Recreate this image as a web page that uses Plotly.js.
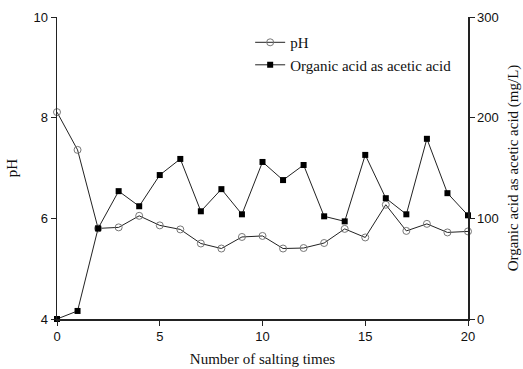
<!DOCTYPE html>
<html>
<head>
<meta charset="utf-8">
<script src="https://cdn.plot.ly/plotly-3.0.1.min.js"></script>
<style>html,body{margin:0;padding:0;background:#fff;}#chart{width:523px;height:369px;}</style>
</head>
<body>
<div id="chart"></div>
<script>
const saltingTimes = [0,1,2,3,4,5,6,7,8,9,10,11,12,13,14,15,16,17,18,19,20];
const phValues = [8.11,7.36,5.80,5.82,6.05,5.86,5.78,5.50,5.40,5.63,5.65,5.40,5.41,5.51,5.79,5.62,6.27,5.75,5.89,5.72,5.74];
const acidValues = [0,8,90,127,112,143,159,107,129,104,156,138,153,102,97,163,120,104,179,125,103];
const xTicks = [0,5,10,15,20];
const phTicks = [4,6,8,10];
const acidTicks = [0,100,200,300];

const serif = 'Liberation Serif, Times New Roman, serif';
const sans = 'Liberation Sans, Arial, sans-serif';

const traces = [
  {
    x: saltingTimes, y: phValues, name: 'pH', type: 'scatter', mode: 'lines+markers',
    line: {color: '#222', width: 1},
    marker: {symbol: 'circle-open', size: 7, color: '#777', line: {width: 1, color: '#777'}},
    cliponaxis: false, yaxis: 'y'
  },
  {
    x: saltingTimes, y: acidValues, name: 'Organic acid as acetic acid', type: 'scatter', mode: 'lines+markers',
    line: {color: '#222', width: 1},
    marker: {symbol: 'square', size: 6, color: '#000'},
    cliponaxis: false, yaxis: 'y2'
  }
];

const layout = {
  width: 523, height: 369,
  margin: {l: 57, r: 55, t: 17, b: 50},
  paper_bgcolor: '#fff', plot_bgcolor: '#fff',
  showlegend: true,
  legend: {x: 0.47, y: 0.97, xanchor: 'left', yanchor: 'top', bgcolor: 'rgba(0,0,0,0)',
           font: {family: serif, size: 15, color: '#111'}, itemwidth: 30, tracegroupgap: 0},
  xaxis: {
    range: [0, 20], tickvals: xTicks, ticktext: xTicks.map(String),
    showgrid: false, zeroline: false, showline: true, linecolor: '#222', linewidth: 1.5,
    mirror: false, ticks: 'outside', ticklen: 5, tickcolor: '#222',
    tickfont: {family: sans, size: 13, color: '#111'},
    title: {text: 'Number of salting times', font: {family: serif, size: 15, color: '#111'}, standoff: 10}
  },
  xaxis2: {overlaying: 'x', side: 'top', range: [0, 20], showticklabels: false, ticks: '',
           showline: true, linecolor: '#222', linewidth: 1.5, showgrid: false, zeroline: false},
  yaxis: {
    range: [4, 10], tickvals: phTicks, ticktext: phTicks.map(String),
    showgrid: false, zeroline: false, showline: true, linecolor: '#222', linewidth: 1.5,
    ticks: 'outside', ticklen: 5, tickcolor: '#222',
    tickfont: {family: sans, size: 13, color: '#111'},
    title: {text: 'pH', font: {family: serif, size: 15, color: '#111'}, standoff: 12}
  },
  yaxis2: {
    overlaying: 'y', side: 'right', range: [0, 300], tickvals: acidTicks, ticktext: acidTicks.map(String),
    showgrid: false, zeroline: false, showline: true, linecolor: '#222', linewidth: 1.5,
    ticks: 'outside', ticklen: 5, tickcolor: '#222',
    tickfont: {family: sans, size: 13, color: '#111'},
    title: {text: 'Organic acid as acetic acid (mg/L)', font: {family: serif, size: 15, color: '#111'}, standoff: 9}
  }
};

Plotly.newPlot('chart', traces, layout, {staticPlot: true, displayModeBar: false});
</script>
</body>
</html>
